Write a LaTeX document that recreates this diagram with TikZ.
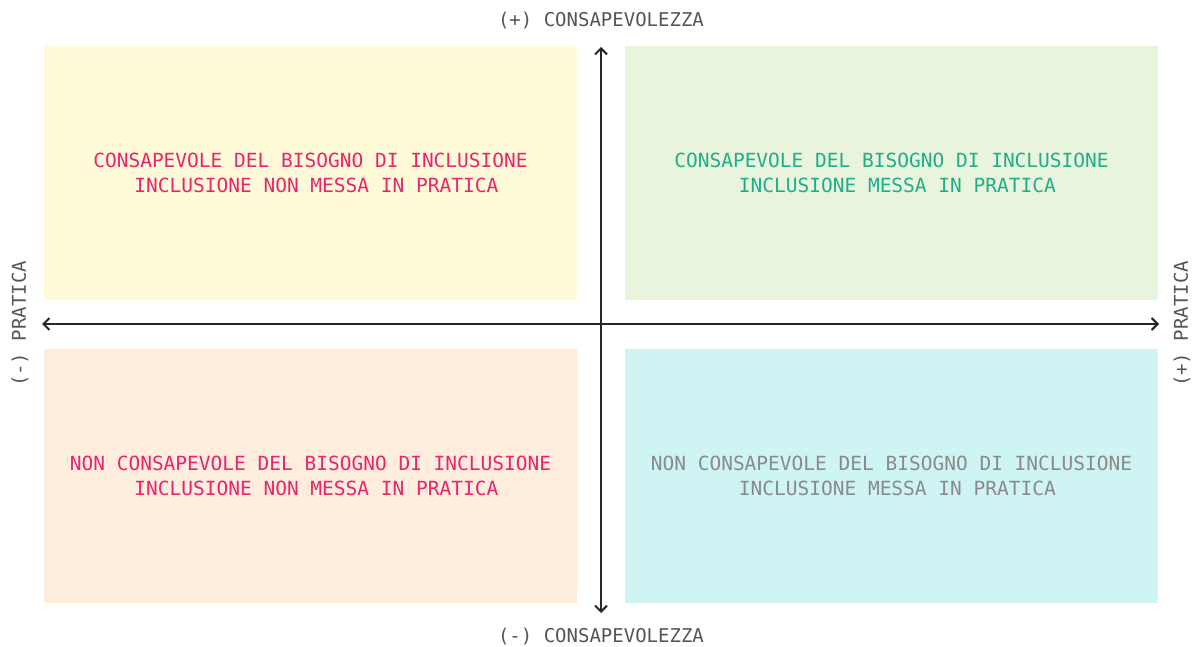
\documentclass[tikz,border=0pt]{standalone}
\usepackage{fontspec}
\setmonofont{DejaVu Sans Mono}
\usepackage{tikz}
\usetikzlibrary{arrows.meta, positioning}
\definecolor{YEL}{HTML}{FFFBD9}
\definecolor{GRN}{HTML}{E8F5DC}
\definecolor{PCH}{HTML}{FFEDDE}
\definecolor{CYN}{HTML}{CFF4F4}
\definecolor{PNK}{HTML}{E8256F}
\definecolor{TEA}{HTML}{1FAE8B}
\definecolor{GRY}{HTML}{8A8A8A}
\definecolor{AXL}{HTML}{555555}
\newcommand{\lead}{\hphantom{X}}% one leading blank on the second line
\tikzset{
  QUAD/.style={% Style for the four quadrant boxes
      rectangle,
      minimum width=533pt,
      minimum height=254pt,
      align=center,
      inner sep=0pt,
      font=\ttfamily\fontsize{19.5}{25}\selectfont,
  },
  AXIS/.style={% Style for the two axes
      line width=2pt,
      draw=black!85,
      {Straight Barb[length=6pt,width=12pt,line width=2pt]}-{Straight Barb[length=6pt,width=12pt,line width=2pt]},
  },
  LAB/.style={% Style for axis labels
      text=AXL,
      inner sep=0pt,
      font=\ttfamily\fontsize{19}{22}\selectfont,
  }
}

\begin{document}
\begin{tikzpicture}[x=1pt, y=-1pt]
    \useasboundingbox[fill=white] (0,0) rectangle (1195,647);
    % quadrants
    \node[QUAD, fill=YEL, text=PNK] (TL) at (310.5,173) {CONSAPEVOLE DEL BISOGNO DI INCLUSIONE\\\lead INCLUSIONE NON MESSA IN PRATICA};
    \node[QUAD, fill=GRN, text=TEA] (TR) at (891.5,173) {CONSAPEVOLE DEL BISOGNO DI INCLUSIONE\\\lead INCLUSIONE MESSA IN PRATICA};
    \node[QUAD, fill=PCH, text=PNK] (BL) at (310.5,475.5) {NON CONSAPEVOLE DEL BISOGNO DI INCLUSIONE\\\lead INCLUSIONE NON MESSA IN PRATICA};
    \node[QUAD, fill=CYN, text=GRY] (BR) at (891.5,475.5) {NON CONSAPEVOLE DEL BISOGNO DI INCLUSIONE\\\lead INCLUSIONE MESSA IN PRATICA};
    % axis ends
    \coordinate (Top) at (601,47);
    \coordinate (Bottom) at (601,613);
    \coordinate (Left) at (42,324);
    \coordinate (Right) at (1159,324);
    \draw[AXIS] (Bottom) -- (Top);
    \draw[AXIS] (Left) -- (Right);
    % axis labels
    \node[LAB] (ConsPlus) at (601,21) {(+) CONSAPEVOLEZZA};
    \node[LAB] (ConsMinus) at (601,637) {(-) CONSAPEVOLEZZA};
    \node[LAB, rotate=90] (PratMinus) at (20,324) {(-) PRATICA};
    \node[LAB, rotate=90] (PratPlus) at (1182,324) {(+) PRATICA};
\end{tikzpicture}
\end{document}
